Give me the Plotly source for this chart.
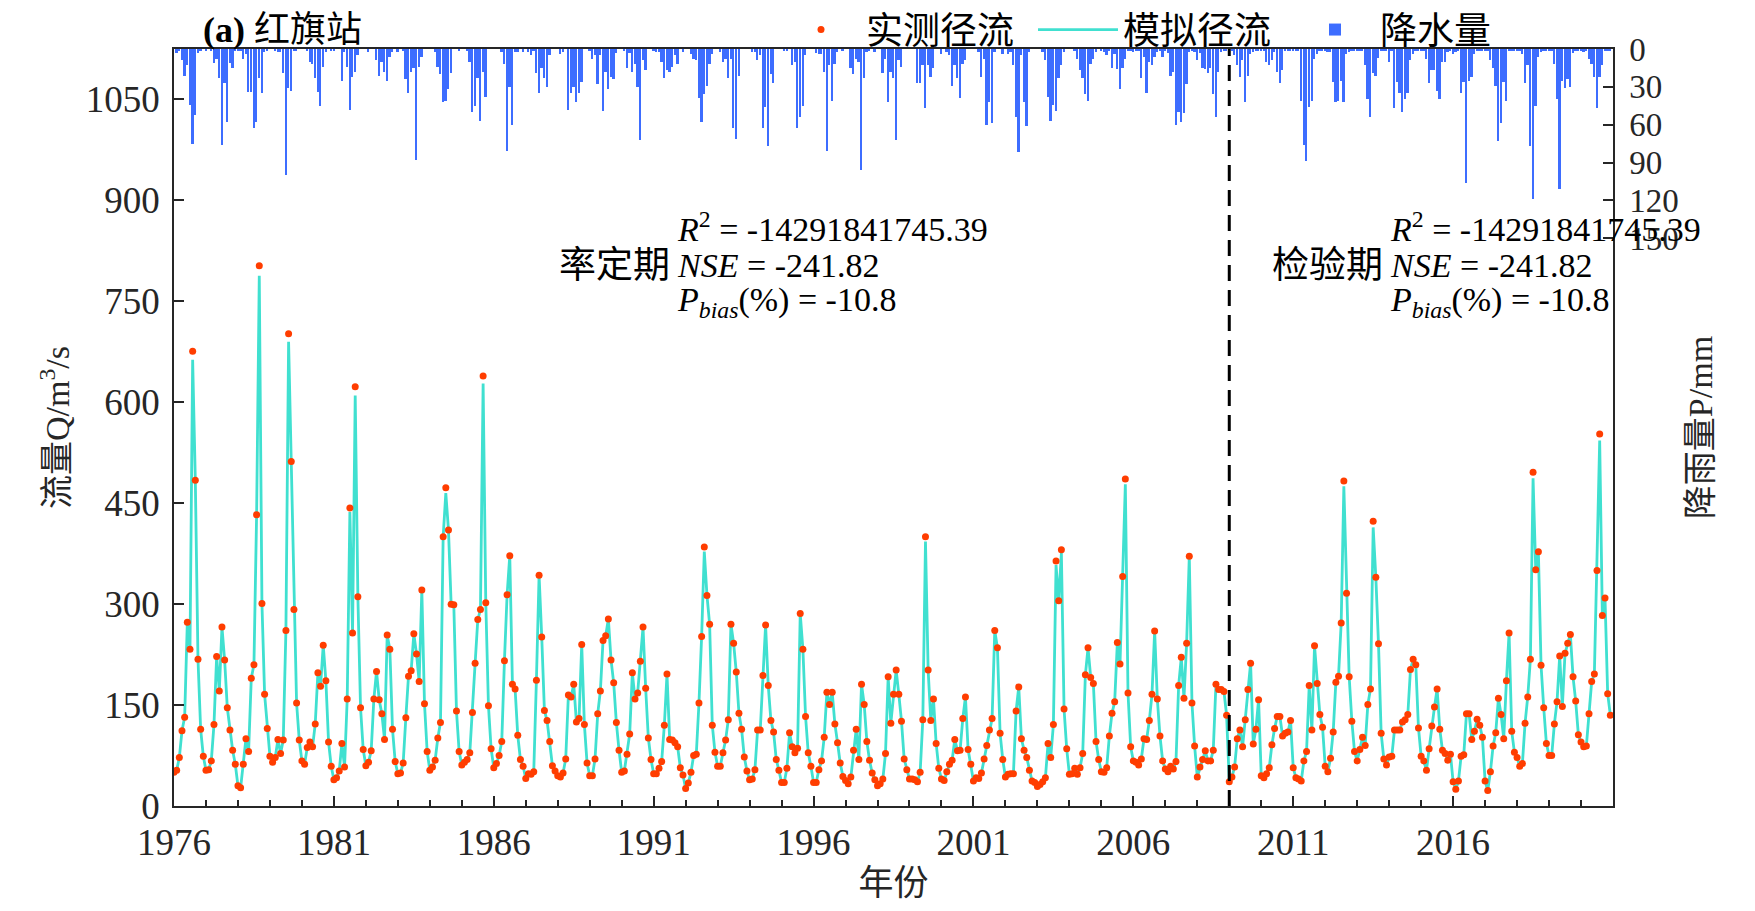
import plotly.graph_objects as go

# ---------------- data ----------------
start_year = 1976
end_year = 2021
split_year = 2009

# observed monthly runoff (m3/s), Jan..Dec per row, 1976-2020
obs_flow = [
    50, 53, 72, 112, 132, 273, 233, 676, 484, 218, 114, 74,      # 1976
    53, 54, 67, 121, 222, 171, 266, 217, 146, 113, 83, 62,       # 1977
    30, 27, 62, 100, 81, 190, 210, 433, 803, 301, 166, 115,      # 1978
    74, 65, 72, 99, 78, 98, 261, 702, 512, 292, 153, 98,         # 1979
    67, 62, 87, 95, 88, 122, 198, 178, 239, 186, 95, 59,         # 1980
    39, 42, 52, 93, 58, 159, 443, 257, 623, 311, 146, 84,        # 1981
    60, 65, 82, 159, 200, 158, 137, 99, 254, 233, 114, 66,       # 1982
    48, 49, 64, 131, 193, 201, 256, 226, 185, 321, 152, 81,      # 1983
    53, 58, 68, 101, 124, 400, 473, 410, 300, 299, 141, 81,      # 1984
    61, 65, 69, 79, 139, 212, 277, 292, 639, 302, 149, 85,       # 1985
    57, 63, 75, 96, 216, 314, 372, 181, 174, 105, 69, 59,        # 1986
    41, 48, 47, 51, 187, 343, 251, 142, 127, 96, 60, 52,         # 1987
    45, 43, 49, 70, 165, 162, 181, 125, 130, 240, 121, 64,       # 1988
    45, 45, 70, 137, 171, 246, 253, 278, 217, 183, 124, 83,      # 1989
    50, 52, 77, 107, 198, 159, 168, 215, 266, 175, 101, 69,      # 1990
    48, 48, 56, 66, 120, 196, 99, 98, 94, 88, 57, 46,            # 1991
    26, 34, 50, 75, 77, 153, 252, 385, 313, 270, 120, 80,        # 1992
    59, 59, 79, 98, 128, 270, 242, 199, 138, 114, 73, 52,        # 1993
    39, 40, 54, 113, 113, 194, 269, 179, 127, 110, 69, 53,       # 1994
    35, 35, 56, 109, 88, 79, 86, 286, 233, 133, 79, 59,          # 1995
    35, 35, 54, 67, 102, 169, 151, 169, 122, 94, 64, 44,         # 1996
    38, 33, 43, 83, 114, 69, 181, 151, 96, 68, 49, 39,           # 1997
    30, 33, 40, 78, 192, 123, 166, 202, 166, 126, 70, 54,        # 1998
    40, 40, 39, 36, 50, 128, 400, 202, 127, 159, 93, 56,         # 1999
    40, 38, 51, 62, 68, 99, 82, 83, 130, 162, 84, 62,            # 2000
    37, 42, 41, 49, 70, 90, 113, 130, 261, 235, 108, 69,         # 2001
    43, 47, 48, 48, 141, 177, 100, 83, 72, 53, 37, 35,           # 2002
    29, 32, 36, 42, 93, 72, 121, 364, 305, 381, 144, 85,         # 2003
    47, 48, 56, 47, 57, 78, 195, 235, 191, 182, 96, 69,          # 2004
    51, 50, 57, 104, 138, 155, 243, 211, 341, 486, 168, 88,      # 2005
    67, 65, 61, 70, 100, 99, 127, 166, 260, 159, 104, 67,        # 2006
    55, 51, 59, 55, 66, 179, 221, 160, 242, 371, 153, 89,        # 2007
    43, 58, 69, 82, 67, 67, 83, 181, 173, 173, 170, 135,         # 2008
    36, 43, 58, 100, 113, 88, 128, 173, 212, 92, 114, 158,       # 2009
    45, 42, 48, 57, 91, 115, 133, 133, 104, 108, 110, 127,       # 2010
    57, 42, 40, 37, 67, 81, 179, 113, 238, 182, 136, 117,        # 2011
    59, 51, 71, 110, 184, 193, 272, 483, 316, 192, 126, 81,      # 2012
    67, 84, 102, 90, 151, 174, 423, 340, 241, 108, 70, 61,       # 2013
    73, 74, 113, 113, 113, 125, 128, 136, 203, 218, 210, 116,    # 2014
    74, 67, 53, 85, 119, 147, 174, 114, 83, 78, 68, 77,          # 2015
    36, 25, 37, 74, 76, 137, 137, 99, 111, 129, 120, 102,        # 2016
    37, 23, 51, 89, 109, 160, 136, 100, 186, 257, 111, 80,       # 2017
    72, 59, 63, 123, 162, 218, 496, 351, 378, 209, 146, 93,      # 2018
    75, 75, 122, 155, 223, 148, 227, 242, 255, 192, 156, 106,    # 2019
    95, 88, 89, 137, 185, 196, 350, 553, 283, 309, 167, 135,     # 2020
]

# simulated runoff: follows the observed points except at these peaks,
# where the drawn line stays a little below the dot (year, month, value)
sim_peak_values = [
    (1976, 8, 663), (1978, 9, 788), (1979, 8, 690), (1981, 7, 437),
    (1981, 9, 610), (1984, 7, 465), (1985, 9, 628), (1992, 8, 378),
    (1999, 7, 393), (2003, 8, 358), (2003, 10, 376), (2005, 10, 478),
    (2012, 8, 475), (2013, 7, 414), (2018, 7, 487), (2020, 8, 543),
]

# monthly precipitation (mm), Jan..Dec per row, 1976-2020
precip = [
    0, 3, 1, 9, 21, 13, 44, 75, 52, 3, 1, 0,          # 1976
    1, 0, 1, 11, 8, 23, 76, 27, 58, 11, 15, 1,        # 1977
    1, 1, 8, 4, 34, 34, 63, 58, 23, 35, 2, 1,         # 1978
    0, 0, 1, 2, 2, 19, 100, 31, 33, 1, 1, 0,          # 1979
    0, 0, 1, 10, 12, 23, 34, 45, 14, 2, 0, 1,         # 1980
    1, 0, 0, 25, 2, 14, 48, 22, 18, 5, 0, 0,          # 1981
    0, 2, 0, 0, 9, 21, 10, 18, 25, 6, 2, 0,           # 1982
    2, 0, 1, 24, 35, 18, 15, 88, 14, 6, 0, 0,         # 1983
    0, 0, 2, 14, 20, 42, 41, 32, 19, 0, 0, 1,         # 1984
    0, 0, 1, 10, 50, 45, 23, 57, 18, 38, 0, 0,        # 1985
    0, 0, 0, 2, 12, 81, 30, 60, 2, 2, 0, 2,           # 1986
    0, 2, 5, 1, 19, 35, 15, 23, 30, 5, 0, 0,          # 1987
    0, 4, 2, 0, 48, 35, 30, 42, 35, 26, 0, 0,         # 1988
    1, 8, 5, 28, 5, 49, 18, 32, 22, 24, 3, 0,         # 1989
    0, 1, 15, 3, 18, 12, 30, 72, 9, 17, 0, 0,         # 1990
    1, 2, 2, 10, 23, 17, 18, 14, 5, 12, 0, 2,         # 1991
    0, 0, 4, 8, 9, 39, 58, 36, 29, 12, 4, 0,          # 1992
    0, 2, 10, 8, 23, 8, 63, 71, 21, 0, 0, 0,          # 1993
    0, 2, 2, 9, 5, 63, 46, 77, 20, 27, 0, 0,          # 1994
    0, 1, 1, 0, 13, 10, 63, 54, 45, 5, 0, 0,          # 1995
    0, 3, 4, 4, 18, 81, 13, 41, 12, 2, 0, 1,          # 1996
    0, 0, 15, 20, 8, 10, 96, 23, 2, 1, 0, 2,          # 1997
    0, 0, 19, 8, 42, 18, 23, 72, 9, 14, 0, 0,         # 1998
    0, 0, 0, 27, 27, 13, 47, 13, 22, 15, 0, 0,        # 1999
    4, 0, 2, 5, 29, 13, 23, 39, 12, 9, 0, 0,          # 2000
    0, 0, 2, 22, 8, 60, 42, 59, 2, 0, 0, 4,           # 2001
    0, 4, 2, 13, 54, 82, 5, 42, 61, 2, 0, 0,          # 2002
    0, 0, 2, 9, 38, 57, 44, 49, 23, 13, 2, 0,         # 2003
    0, 0, 1, 8, 17, 23, 36, 41, 12, 8, 2, 0,          # 2004
    1, 2, 5, 1, 15, 4, 16, 32, 15, 8, 1, 1,           # 2005
    2, 1, 1, 23, 6, 35, 10, 13, 6, 2, 1, 6,           # 2006
    1, 3, 21, 18, 60, 50, 58, 51, 28, 2, 1, 2,        # 2007
    9, 3, 15, 16, 19, 15, 36, 54, 18, 2, 1, 1,        # 2008
    1, 1, 5, 13, 22, 9, 42, 21, 4, 2, 1, 1,           # 2009
    1, 1, 10, 13, 9, 2, 18, 27, 17, 1, 1, 1,          # 2010
    1, 1, 1, 41, 76, 89, 46, 41, 8, 4, 1, 1,          # 2011
    1, 2, 2, 26, 42, 41, 25, 42, 4, 2, 1, 1,          # 2012
    1, 1, 1, 13, 40, 54, 19, 21, 7, 1, 1, 1,          # 2013
    10, 1, 47, 26, 35, 50, 40, 35, 9, 4, 1, 1,        # 2014
    1, 1, 8, 27, 17, 17, 33, 40, 10, 10, 2, 1,        # 2015
    4, 2, 1, 35, 26, 106, 25, 22, 4, 1, 1, 1,         # 2016
    1, 1, 9, 15, 29, 73, 59, 26, 41, 1, 1, 1,         # 2017
    1, 1, 4, 27, 13, 77, 119, 45, 6, 2, 1, 1,         # 2018
    1, 1, 12, 40, 111, 25, 31, 24, 30, 3, 1, 1,       # 2019
    1, 2, 1, 8, 12, 22, 47, 22, 13, 1, 1, 1,          # 2020
]

x_tick_years = [1976, 1981, 1986, 1991, 1996, 2001, 2006, 2011, 2016]
flow_ticks = [0, 150, 300, 450, 600, 750, 900, 1050]
precip_ticks = [0, 30, 60, 90, 120, 150]

stats_text = {
    "r2": "-14291841745.39",
    "nse": "-241.82",
    "pbias": "-10.8",
}

# ---------------- build ----------------
time_axis = [start_year + i / 12 for i in range(len(obs_flow))]

sim_flow = list(obs_flow)
for (yy, mm, val) in sim_peak_values:
    sim_flow[(yy - start_year) * 12 + (mm - 1)] = val

FONT = "Liberation Serif, Times New Roman, Noto Sans CJK SC, serif"
AXC = "#262626"

fig = go.Figure()

fig.add_trace(go.Scatter(
    x=time_axis, y=obs_flow, mode="markers", name="实测径流",
    marker=dict(color="#FF3D00", size=7),
))
fig.add_trace(go.Scatter(
    x=time_axis, y=sim_flow, mode="lines", name="模拟径流",
    line=dict(color="#40E0D0", width=2.8),
))
fig.add_trace(go.Bar(
    x=time_axis, y=precip, yaxis="y2", name="降水量",
    marker=dict(color="#3D6DFF", line=dict(width=0)),
    width=0.055,
))
# draw bars underneath the runoff
fig.data = (fig.data[2], fig.data[1], fig.data[0])

fig.add_shape(type="line", x0=split_year, x1=split_year, xref="x",
              y0=0, y1=1, yref="y domain",
              line=dict(color="black", width=3, dash="16px,9px"))

# page body has an 8px margin; the plot area must sit at these page pixels
PAGE_OFF = 8
PL, PR, PT, PB = 174, 1613, 49, 806      # plot box in page pixels
W, H = 1755 - 2 * PAGE_OFF, 911 - 2 * PAGE_OFF
L = PL - PAGE_OFF
T = PT - PAGE_OFF
R = W - (PR - PAGE_OFF)
B = H - (PB - PAGE_OFF)
pw, ph = PR - PL, PB - PT

def px(xpage):
    return (xpage - PL) / pw

def py(ypage):
    return (PB - ypage) / ph

ann = []
ann_font = dict(family=FONT, size=34, color="black")
for (x_left, label) in [(675, "率定期"), (1388, "检验期")]:
    ann.append(dict(x=px(x_left), y=py(227), xref="paper", yref="paper",
                    xanchor="left", yanchor="middle", showarrow=False,
                    text="<i>R</i><sup>2</sup> = " + stats_text["r2"], font=ann_font))
    ann.append(dict(x=px(x_left), y=py(265), xref="paper", yref="paper",
                    xanchor="left", yanchor="middle", showarrow=False,
                    text="<i>NSE</i> = " + stats_text["nse"], font=ann_font))
    ann.append(dict(x=px(x_left - 3), y=py(265), xref="paper", yref="paper",
                    xanchor="right", yanchor="middle", showarrow=False,
                    text=label, font=dict(family=FONT, size=37, color="black")))
    ann.append(dict(x=px(x_left), y=py(302), xref="paper", yref="paper",
                    xanchor="left", yanchor="middle", showarrow=False,
                    text="<i>P</i><sub><i>bias</i></sub>(%) = " + stats_text["pbias"],
                    font=ann_font))

ann.append(dict(x=px(201), y=py(30), xref="paper", yref="paper",
                xanchor="left", yanchor="middle", showarrow=False,
                text="<b>(a)</b> 红旗站", font=dict(family=FONT, size=36, color="black")))

fig.update_layout(
    width=W, height=H,
    margin=dict(l=L, r=R, t=T, b=B, autoexpand=False),
    paper_bgcolor="white", plot_bgcolor="white",
    font=dict(family=FONT, size=34, color=AXC),
    bargap=0,
    showlegend=True,
    legend=dict(orientation="h", x=px(776), y=py(30), xanchor="left", yanchor="middle",
                font=dict(family=FONT, size=37, color="black"),
                bgcolor="rgba(0,0,0,0)", itemwidth=80, tracegroupgap=0,
                entrywidth=162, entrywidthmode="pixels",
                traceorder="reversed"),
    xaxis=dict(
        range=[start_year, end_year], tickmode="array", tickvals=x_tick_years,
        ticktext=[str(v) for v in x_tick_years],
        ticks="inside", ticklen=10, tickwidth=1.5, tickcolor=AXC,
        minor=dict(dtick=1, tick0=start_year, ticks="inside", ticklen=6, tickcolor=AXC),
        showline=True, linecolor=AXC, linewidth=1.5, mirror=True,
        showgrid=False, zeroline=False,
        tickfont=dict(family=FONT, size=37, color=AXC),
        ticklabelstandoff=3,
        title=dict(text="年份", font=dict(family=FONT, size=35, color=AXC), standoff=27),
    ),
    yaxis=dict(
        range=[0, 1125], tickmode="array", tickvals=flow_ticks,
        ticks="inside", ticklen=10, tickwidth=1.5, tickcolor=AXC,
        showline=True, linecolor=AXC, linewidth=1.5,
        showgrid=False, zeroline=False,
        tickfont=dict(family=FONT, size=37, color=AXC),
        ticklabelstandoff=5,
        title=dict(text="流量Q/m<sup>3</sup>/s", font=dict(family=FONT, size=34, color=AXC), standoff=6),
    ),
    yaxis2=dict(
        overlaying="y", side="right", range=[600, 0],
        tickmode="array", tickvals=precip_ticks,
        ticks="inside", ticklen=10, tickwidth=1.5, tickcolor=AXC,
        showline=True, linecolor=AXC, linewidth=1.5,
        showgrid=False, zeroline=False,
        tickfont=dict(family=FONT, size=33, color=AXC),
        ticklabelstandoff=8,
        title=dict(text="降雨量P/mm", font=dict(family=FONT, size=34, color=AXC), standoff=10),
    ),
    annotations=ann,
)

fig.write_html("out.html")
